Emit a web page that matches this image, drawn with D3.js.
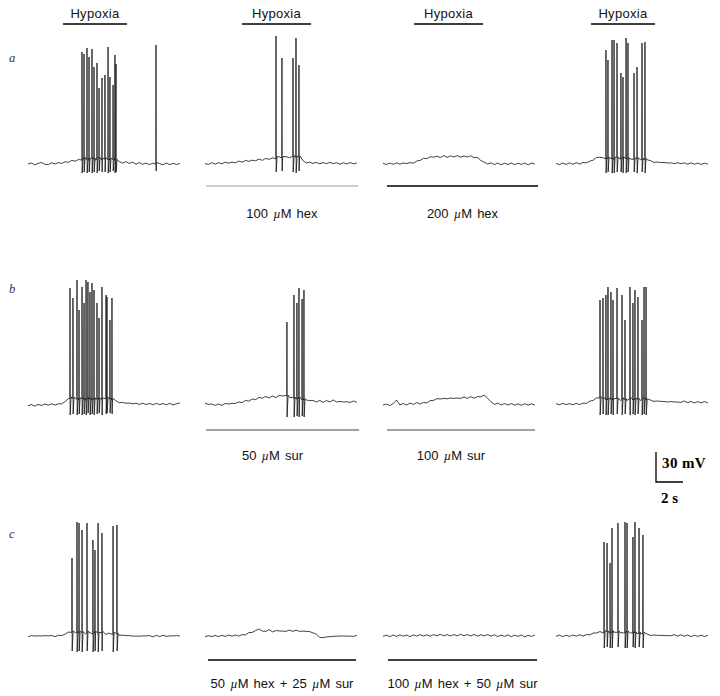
<!DOCTYPE html>
<html>
<head>
<meta charset="utf-8">
<script src="https://cdn.jsdelivr.net/npm/d3@7/dist/d3.min.js"></script>
<style>
  html, body { margin: 0; padding: 0; background: #fff; }
  svg { display: block; }
</style>
</head>
<body>
<svg id="chart" width="720" height="696"></svg>
<script>
// ---------------- DATA ----------------
const rowLabels = ["a", "b", "c"];
const hypoxiaLabel = "Hypoxia";
// hypoxia period per column (s)
const hypoxiaOn  = [2.59, 2.74, 2.30, 2.59];
const hypoxiaOff = [7.33, 7.85, 7.41, 7.33];
// drug application (columns 2 and 3 of each row)
const drugLabels = [
  ["100 µM hex", "200 µM hex"],
  ["50 µM sur", "100 µM sur"],
  ["50 µM hex + 25 µM sur", "100 µM hex + 50 µM sur"]
];
const drugStart = [[0.07, 0.30], [0.07, 0.30], [0.22, 0.37]];
const drugEnd   = [[11.33, 11.48], [11.41, 11.26], [11.19, 11.41]];
// scale bar values
const scaleBarMV = 30;
const scaleBarS = 2;
// sampling step of membrane potential traces (s)
const sampleStep = 0.25;
// membrane potential (mV relative to rest), one sample per 0.25 s
const vmA1 = [0,1,-0.8,0.6,1.5,-0.3,-0.6,1.2,0,1.4,0.6,2.2,1.8,3.6,2.8,4.6,3.8,5.4,3.6,5.6,4,5.8,3.8,5.2,3.6,4.8,3.2,2.6,0.8,2.4,0.6,1.8,-0.2,1.4,-0.4,1,-0.6,0.9,-0.3,0.4,-0.8,1,-0.6,0.6,-0.4,0.5];
const vmA2 = [0.5,-0.5,1.3,-0.2,1.4,0.2,1.8,0.8,1.9,1.2,2.9,1.8,3.6,2.6,3.8,3.2,5,3.6,5.6,4.6,6.2,5.2,7.2,5.6,7.4,6.2,7.6,6.4,7,3.4,1,1.8,0.6,1.6,0.2,1.4,0.3,1.6,0.4,1.3,-0.2,1.2,0,1.5,0.1,1];
const vmA3 = [0.6,-0.5,1,-0.3,1.2,-0.2,1,0.4,1.4,0.8,3,3.6,5.6,5.4,7.2,6.8,7.8,6.4,8.4,6.6,8.2,7,8.4,6.8,8,7,8.2,6.4,6.6,3.4,1.8,0,1.2,-0.6,1,-0.8,0.9,-0.5,1.1,-0.7,0.8,-0.4,1,-0.8,1,0];
const vmA4 = [0.6,-0.6,1,-0.5,1.1,-0.3,1.3,0,1.5,1.2,2.8,3.8,6.4,6.8,6.2,4.8,5.8,4.6,6.2,4.8,5.8,4.6,5,4.6,5,4.4,4.4,4.2,3.4,1.6,2,1.4,1.6,1,1.2,0.4,1.2,0.4,1.1,-0.2,1.2,-0.3,1,-0.5,0.9,-0.2];
const vmB1 = [-0.8,0.5,-1.2,0.7,-0.5,1,-0.2,1.1,-0.1,1.2,1.2,3.4,6.4,6.8,6.4,5.2,6.4,4.8,6.4,4.6,6,5.6,5.4,6.2,6.4,5,4.4,2.2,2.6,1.8,2,1.2,1.8,0.6,1.8,0.4,1.6,0.2,1.6,0.4,1.4,0.2,1.6,0.1,1.2,2];
const vmB2 = [1.8,0.6,1,-0.4,1,-0.4,1.5,1,1.6,1.6,3,2.4,4.6,3.8,6,5.4,7.6,6.8,8.6,7,9,7.4,9.6,9,9.6,7.6,7.4,6,6.6,4.6,5,4.4,4.6,3,4.6,2.6,4.6,3,5,3,3.6,3,3.2,2.6,4,2.6];
const vmB3 = [0,1,-0.6,1.3,5,0,1.5,0,2,0.6,2.4,1,2.6,2,4.4,4.6,6.4,6,6.6,6.2,7,6.6,7,6.6,8,6.6,8.3,6.8,8.4,8.2,10,6.6,3.2,0.6,1.9,0,1.5,0,1.4,-0.2,1.2,-0.3,1.3,0,1.2,-0.1];
const vmB4 = [1.4,0.2,1.6,0.4,1.4,0.2,1.6,0.4,1.9,1.6,3.8,4.6,7.2,7,6.4,4.6,6,4.6,6.4,4.6,6,4.6,6.4,4.6,6,4.6,6.4,4.6,5,3.6,4,3.6,3.5,3,3.5,3,3,2.6,4,2.4,3.6,2,3.4,2.1,3.4,2.2];
const vmC1 = [-0.8,0.4,0,0.2,0,0.4,0.1,0.6,-0.7,0.8,0.4,1.9,3.9,3.6,3.4,3.1,3.4,2.1,3.9,2.1,3.4,2.1,3.4,1.6,2.9,1.6,2.9,0.6,0.9,0.4,0.4,-0.1,-0.1,-0.2,0.1,0.1,0.4,-0.8,0.7,-0.6,0.8,-0.4,0.1,0.1,0.4,-0.1];
const vmC2 = [-0.9,0.4,-0.7,0.6,-0.6,0.7,-0.4,0.9,-0.2,1,-0.1,1.4,1.1,3.4,3.6,5.4,7,4.9,4.6,6.4,4.1,5.4,5.1,4.9,4.6,5.9,4.6,5.9,4.6,4.9,4.6,4.4,3.1,1.9,-1.4,-1.6,-0.9,-0.6,-0.4,-0.1,-0.1,0.1,-0.2,-0.1,-0.4,0.7];
const vmC3 = [-0.4,0.9,-0.7,1,-0.4,1.2,-0.2,0.9,-0.6,1.1,-0.1,1.4,0,1.2,-0.2,1.4,0.2,1.6,0.1,1.4,0,1.5,0.2,1.7,0.3,1.4,0.1,1.6,-0.1,1.3,0.1,1.5,-0.2,1.2,-0.6,1,-0.4,1.1,-0.8,0.9,-0.4,1,-0.9,0.7,-0.4,1];
const vmC4 = [-0.4,0.9,-0.7,0.8,-0.4,1,-0.2,1.2,-0.1,1.4,1.1,2.9,3.1,4.4,3.1,4.4,2.6,3.9,3.6,3.4,3.1,3.4,3.1,2.9,2.6,2.4,2.1,1.9,0.6,0.9,0.6,0.7,0.4,0.4,0.2,1.4,-0.1,1.2,-0.2,1,-0.6,0.8,-0.4,0.9,-0.6,0.7];
// action potentials: [time (s), peak (mV), afterhyperpolarisation trough (mV)]
const spikesA1 = [[4.00,112,-9],[4.15,110,-8],[4.37,116,-9],[4.52,107,-8],[4.74,115,-9],[4.89,97,-8],[5.11,101,-9],[5.26,76,-7],[5.48,86,-8],[5.70,89,-8],[5.93,117,-9],[6.07,87,-8],[6.30,79,-7],[6.44,109,-9],[6.52,100,-8],[9.48,119,-7]];
const spikesA2 = [[5.26,128,-8],[5.70,106,-7],[6.52,106,-8],[6.74,126,-9],[6.96,99,-7]];
const spikesA3 = [];
const spikesA4 = [[3.70,114,-9],[3.85,104,-8],[4.15,124,-9],[4.30,124,-9],[4.52,121,-8],[4.81,91,-8],[4.96,87,-9],[5.19,126,-9],[5.33,121,-8],[5.78,91,-8],[6.00,97,-9],[6.37,121,-8],[6.59,122,-9]];
const spikesB1 = [[3.11,117,-10],[3.33,107,-9],[3.63,125,-10],[3.78,95,-9],[4.00,118,-10],[4.15,102,-9],[4.30,125,-10],[4.44,123,-8],[4.59,113,-10],[4.74,122,-9],[4.89,115,-10],[5.11,102,-9],[5.26,87,-8],[5.48,118,-10],[5.78,110,-9],[5.85,108,-8],[6.07,85,-8],[6.22,107,-9]];
const spikesB2 = [[6.07,83,-12],[6.59,110,-12],[6.81,102,-11],[6.96,117,-12],[7.19,106,-11],[7.33,115,-12]];
const spikesB3 = [];
const spikesB4 = [[3.26,105,-10],[3.48,107,-9],[3.70,110,-10],[3.85,118,-10],[4.07,113,-9],[4.22,105,-10],[4.52,117,-9],[4.89,110,-10],[5.11,85,-9],[5.48,118,-10],[5.70,102,-9],[5.85,115,-10],[6.07,108,-9],[6.37,85,-10],[6.52,118,-9],[6.67,118,-10]];
const spikesC1 = [[3.26,78,-15],[3.63,114,-16],[3.78,113,-15],[4.00,106,-16],[4.37,113,-15],[4.81,96,-16],[4.96,86,-15],[5.19,113,-16],[5.48,103,-15],[6.30,110,-16],[6.59,111,-15]];
const spikesC2 = [];
const spikesC3 = [];
const spikesC4 = [[3.56,94,-12],[3.78,93,-11],[4.00,73,-12],[4.15,108,-12],[4.59,113,-11],[5.11,114,-12],[5.26,113,-12],[5.70,99,-11],[5.85,114,-12],[6.15,108,-11],[6.44,101,-12]];

// ---------------- LAYOUT ----------------
const traceVm = [[vmA1, vmA2, vmA3, vmA4], [vmB1, vmB2, vmB3, vmB4], [vmC1, vmC2, vmC3, vmC4]];
const traceSpikes = [[spikesA1, spikesA2, spikesA3, spikesA4], [spikesB1, spikesB2, spikesB3, spikesB4], [spikesC1, spikesC2, spikesC3, spikesC4]];
const colX = [28, 205, 383, 556];
const rowY = [164, 405, 636];
const pxPerS = 13.5, pxPerMV = 1;
const duration = sampleStep * (vmA1.length - 1);

const svg = d3.select("#chart");
const sans = "'Liberation Sans', Arial, Helvetica, sans-serif";
const serif = "'Liberation Serif', 'Times New Roman', serif";

const xScale = c => d3.scaleLinear().domain([0, duration]).range([colX[c], colX[c] + duration * pxPerS]);
const yScale = r => d3.scaleLinear().domain([0, 30]).range([rowY[r], rowY[r] - 30 * pxPerMV]);

function vmAt(arr, t) {
  const i = Math.max(0, Math.min(arr.length - 1, t / sampleStep));
  const i0 = Math.floor(i), f = i - i0;
  const i1 = Math.min(arr.length - 1, i0 + 1);
  return arr[i0] * (1 - f) + arr[i1] * f;
}

// Hypoxia bars + labels
for (let c = 0; c < 4; c++) {
  const x = xScale(c);
  svg.append("line")
    .attr("x1", x(hypoxiaOn[c])).attr("x2", x(hypoxiaOff[c]))
    .attr("y1", 24).attr("y2", 24)
    .attr("stroke", "#000").attr("stroke-width", 1.3);
  svg.append("text")
    .attr("x", (x(hypoxiaOn[c]) + x(hypoxiaOff[c])) / 2).attr("y", 17.5)
    .attr("text-anchor", "middle")
    .attr("font-family", sans).attr("font-size", 13).attr("fill", "#111")
    .style("letter-spacing", "0.3px")
    .text(hypoxiaLabel);
}

// Row letters
const letterY = [62, 293, 538];
rowLabels.forEach((l, r) => {
  svg.append("text").attr("x", 9).attr("y", letterY[r])
    .attr("font-family", serif).attr("font-style", "italic")
    .attr("font-size", 12.5).attr("fill", "#333").text(l);
});

// Traces
const line = (x, y) => d3.line().x(d => x(d[0])).y(d => y(d[1]));
for (let r = 0; r < 3; r++) {
  for (let c = 0; c < 4; c++) {
    const x = xScale(c), y = yScale(r);
    const vm = traceVm[r][c];
    const pts = vm.map((v, i) => [i * sampleStep, v]);
    traceSpikes[r][c].forEach(s => {
      const [t, peak, trough] = s;
      pts.push([t - 0.01, vmAt(vm, t - 0.01)]);
      pts.push([t, peak]);
      pts.push([t + 0.012, trough]);
      pts.push([t + 0.08, vmAt(vm, t + 0.08) + 1.5]);
    });
    pts.sort((a, b) => a[0] - b[0]);
    svg.append("path").datum(pts)
      .attr("d", line(x, y))
      .attr("fill", "none").attr("stroke", "#111")
      .attr("stroke-width", 0.8).attr("stroke-linejoin", "bevel");
  }
}

// Drug bars + labels
const drugBarOffset = [22, 25, 24];
const drugLabelOffset = [54, 55, 52];
const drugLabelShift = [0, -10, 0];
const drugStyle = [[["#9a9a9a", 1], ["#000", 1.4]], [["#444", 1], ["#444", 1]], [["#000", 1.3], ["#000", 1.3]]];
for (let r = 0; r < 3; r++) {
  for (let k = 0; k < 2; k++) {
    const c = k + 1, x = xScale(c);
    const x1 = x(drugStart[r][k]), x2 = x(drugEnd[r][k]);
    const yb = rowY[r] + drugBarOffset[r];
    svg.append("line").attr("x1", x1).attr("x2", x2).attr("y1", yb).attr("y2", yb)
      .attr("stroke", drugStyle[r][k][0]).attr("stroke-width", drugStyle[r][k][1]);
    const txt = svg.append("text")
      .attr("x", (x1 + x2) / 2 + drugLabelShift[r]).attr("y", rowY[r] + drugLabelOffset[r])
      .attr("text-anchor", "middle").attr("font-family", sans)
      .attr("font-size", 13).attr("fill", "#111")
      .style("word-spacing", "1.5px");
    const parts = drugLabels[r][k].split("µ");
    parts.forEach((p, i) => {
      if (i > 0) txt.append("tspan").attr("font-style", "italic").attr("font-family", serif).text("µ");
      txt.append("tspan").text(p);
    });
  }
}

// Scale bar
{
  const x = xScale(3), y = yScale(1);
  const ox = 656, oy = 482;
  const h = y(0) - y(scaleBarMV);
  const w = x(scaleBarS) - x(0);
  svg.append("path")
    .attr("d", `M${ox},${oy - h}V${oy}H${ox + w}`)
    .attr("fill", "none").attr("stroke", "#000").attr("stroke-width", 1.3);
  svg.append("text").attr("x", 662).attr("y", 468)
    .attr("font-family", serif).attr("font-weight", "bold").attr("font-size", 15)
    .style("letter-spacing", "0.4px")
    .text(scaleBarMV + " mV");
  svg.append("text").attr("x", ox + w / 2).attr("y", 503)
    .attr("text-anchor", "middle")
    .attr("font-family", serif).attr("font-weight", "bold").attr("font-size", 15)
    .text(scaleBarS + " s");
}
</script>
</body>
</html>
